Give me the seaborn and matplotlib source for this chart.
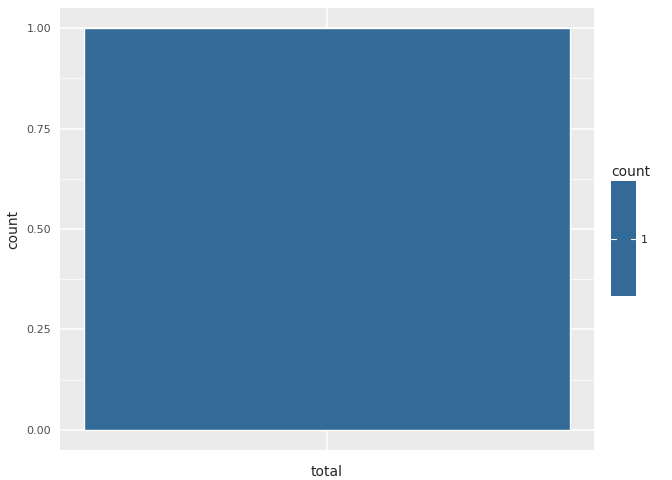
import matplotlib
matplotlib.use("Agg")
import matplotlib.pyplot as plt
import seaborn as sns
import pandas as pd
import numpy as np

categories = ["total"]
counts = [1]
bar_color = "#336A98"

df = pd.DataFrame({"x": categories, "count": counts})

sns.set_style("darkgrid", {"axes.facecolor": "#EBEBEB", "grid.color": "white"})
fig = plt.figure(figsize=(6.72, 4.8), dpi=100)
ax = fig.add_axes([60/672, 30/480, 534/672, 442/480])
sns.barplot(data=df, x="x", y="count", color=bar_color, saturation=1, width=0.9, ax=ax, zorder=3)
ax.set_xlim(-0.495, 0.495)
ax.set_ylim(-0.05, 1.05)
ax.set_yticks([0, 0.25, 0.5, 0.75, 1.0])
ax.set_yticklabels(["0.00", "0.25", "0.50", "0.75", "1.00"])
ax.set_yticks([0.125, 0.375, 0.625, 0.875], minor=True)
ax.grid(True, which="major", color="white", linewidth=1.1)
ax.grid(True, which="minor", axis="y", color="white", linewidth=0.5)
ax.set_axisbelow(True)
for s in ax.spines.values():
    s.set_visible(False)
ax.tick_params(axis="both", which="major", length=3, color="#333333", labelcolor="#4D4D4D", labelsize=8)
ax.tick_params(axis="y", which="minor", length=0)
ax.set_xlabel("total", fontsize=10)
ax.set_xticklabels([""])
ax.set_ylabel("count", fontsize=10)

# legend colorbar
cax = fig.add_axes([611/672, 184/480, 25/672, 115/480])
cax.imshow(np.zeros((2, 2)), cmap=matplotlib.colors.ListedColormap([bar_color]), aspect="auto", extent=[0, 1, 0, 1])
cax.set_xticks([]); cax.set_yticks([])
for s in cax.spines.values():
    s.set_visible(False)
cax.plot([0, 0.2], [0.5, 0.5], color="white", lw=0.8)
cax.plot([0.8, 1], [0.5, 0.5], color="white", lw=0.8)
cax.set_xlim(0, 1); cax.set_ylim(0, 1)
fig.text(611/672, 1 - 172/480, "count", fontsize=10, va="center")
fig.text(641/672, 1 - 240/480, "1", fontsize=8, va="center", color="#222222")

fig.savefig("out.png", dpi=100)
